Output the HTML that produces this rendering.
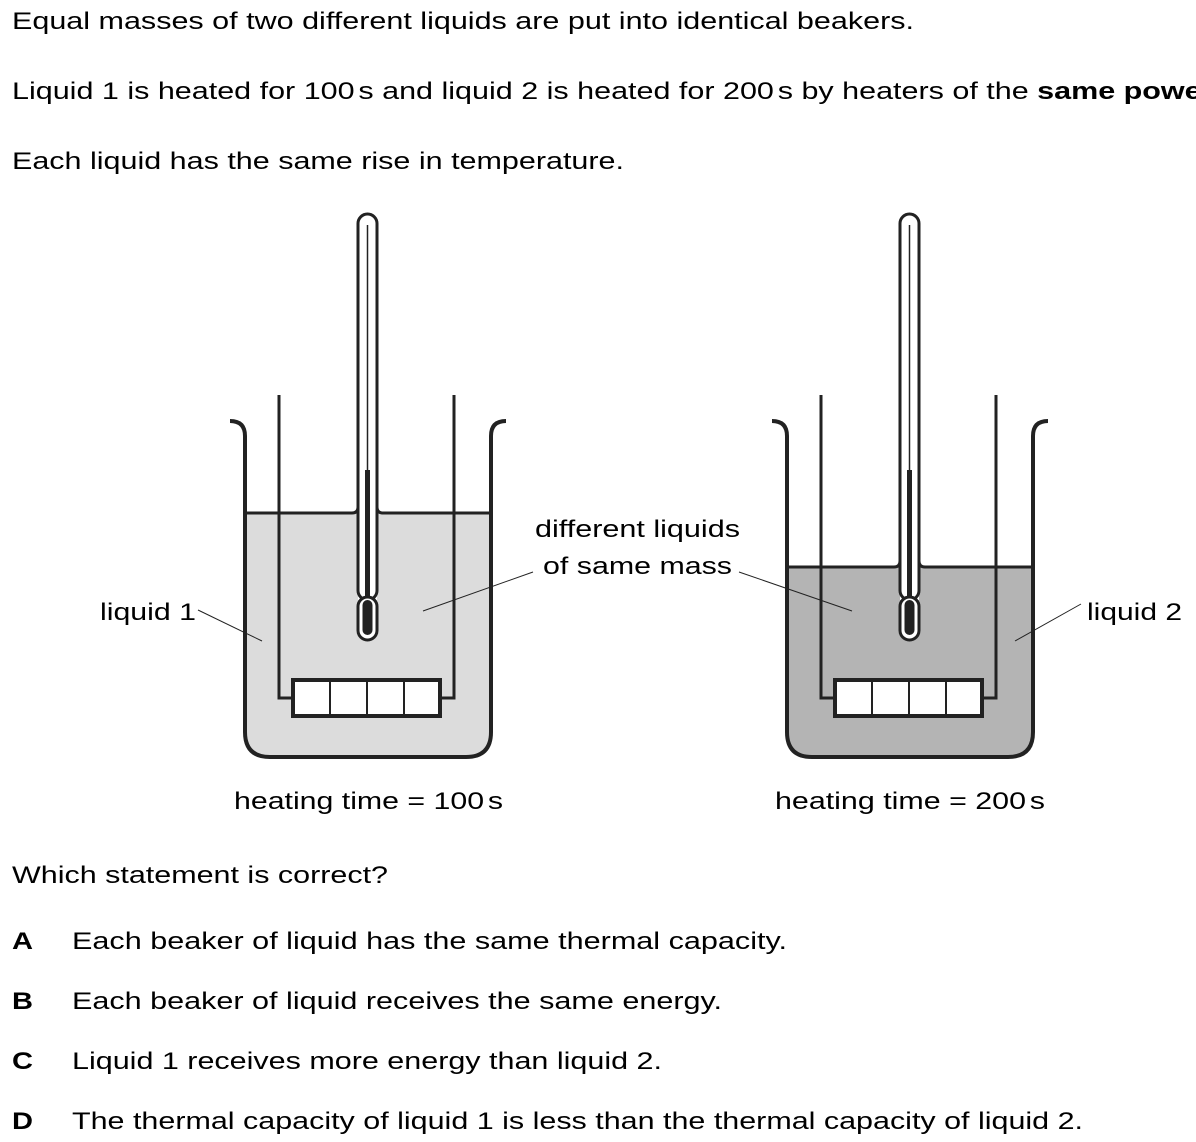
<!DOCTYPE html>
<html><head><meta charset="utf-8"><style>
body{margin:0;background:#fff;width:1196px;height:1142px;overflow:hidden}
svg{display:block}
text{font-family:"Liberation Sans",Arial,sans-serif;font-size:24px;fill:#000}
</style></head><body>
<svg width="1196" height="1142" viewBox="0 0 1196 1142">
<text x="12" y="29" textLength="902" lengthAdjust="spacingAndGlyphs">Equal masses of two different liquids are put into identical beakers.</text>
<text x="12" y="99" textLength="1210" lengthAdjust="spacingAndGlyphs">Liquid 1 is heated for 100<tspan dx="3">s and liquid 2 is heated for 200</tspan><tspan dx="3">s by heaters of the </tspan><tspan font-weight="bold">same power</tspan>.</text>
<text x="12" y="169" textLength="612" lengthAdjust="spacingAndGlyphs">Each liquid has the same rise in temperature.</text>

<defs>
<g id="beaker-frame">
  <path d="M230,421 Q245,421 245,436 L245,732 Q245,757 270,757 L466,757 Q491,757 491,732 L491,436 Q491,421 506,421" fill="none" stroke="#222" stroke-width="4"/>
</g>
<g id="inner">
  <path d="M279,395 L279,698 L292,698 M454,395 L454,698 L440,698" fill="none" stroke="#222" stroke-width="3"/>
  <rect x="293" y="680" width="147" height="36" fill="#fff" stroke="#222" stroke-width="4"/>
  <path d="M330,680V716M367,680V716M404,680V716" stroke="#222" stroke-width="2"/>
  <rect x="358" y="214" width="19" height="386" rx="9.5" fill="#fff" stroke="#222" stroke-width="3"/>
  <line x1="367.5" y1="225" x2="367.5" y2="470" stroke="#222" stroke-width="1.5"/>
  <rect x="365" y="470" width="5" height="128" fill="#222"/>
  <rect x="358" y="597" width="19" height="43" rx="9.5" fill="#fff" stroke="#222" stroke-width="3"/>
  <rect x="362.5" y="600" width="10" height="35" rx="5" fill="#222"/>
</g>
</defs>

<path d="M245,513 L358,513 L358,600 L377,600 L377,513 L491,513 L491,732 Q491,757 466,757 L270,757 Q245,757 245,732 Z" fill="#dcdcdc"/>
<path d="M247,513 L352,513 Q358,513 358,507 M377,507 Q377,513 383,513 L489,513" fill="none" stroke="#222" stroke-width="3"/>
<use href="#beaker-frame"/>
<use href="#inner"/>

<g transform="translate(542,0)">
<path d="M245,567 L358,567 L358,600 L377,600 L377,567 L491,567 L491,732 Q491,757 466,757 L270,757 Q245,757 245,732 Z" fill="#b4b4b4"/>
<path d="M247,567 L352,567 Q358,567 358,561 M377,561 Q377,567 383,567 L489,567" fill="none" stroke="#222" stroke-width="3"/>
<use href="#beaker-frame"/>
<use href="#inner"/>
</g>

<text x="100" y="620" textLength="96" lengthAdjust="spacingAndGlyphs">liquid 1</text>
<line x1="198" y1="610" x2="262" y2="641" stroke="#222" stroke-width="1"/>
<text x="535" y="537" textLength="205" lengthAdjust="spacingAndGlyphs">different liquids</text>
<text x="543" y="574" textLength="189" lengthAdjust="spacingAndGlyphs">of same mass</text>
<line x1="533" y1="572" x2="423" y2="611" stroke="#222" stroke-width="1"/>
<line x1="739" y1="572" x2="852" y2="611" stroke="#222" stroke-width="1"/>
<text x="1087" y="620" textLength="95" lengthAdjust="spacingAndGlyphs">liquid 2</text>
<line x1="1081" y1="604" x2="1015" y2="641" stroke="#222" stroke-width="1"/>
<text x="234" y="809" textLength="269" lengthAdjust="spacingAndGlyphs">heating time = 100<tspan dx="3">s</tspan></text>
<text x="775" y="809" textLength="270" lengthAdjust="spacingAndGlyphs">heating time = 200<tspan dx="3">s</tspan></text>

<text x="12" y="883" textLength="376" lengthAdjust="spacingAndGlyphs">Which statement is correct?</text>
<text x="12" y="949" font-weight="bold" textLength="21" lengthAdjust="spacingAndGlyphs">A</text><text x="72" y="949" textLength="715" lengthAdjust="spacingAndGlyphs">Each beaker of liquid has the same thermal capacity.</text>
<text x="12" y="1009" font-weight="bold" textLength="21" lengthAdjust="spacingAndGlyphs">B</text><text x="72" y="1009" textLength="650" lengthAdjust="spacingAndGlyphs">Each beaker of liquid receives the same energy.</text>
<text x="12" y="1069" font-weight="bold" textLength="21" lengthAdjust="spacingAndGlyphs">C</text><text x="72" y="1069" textLength="590" lengthAdjust="spacingAndGlyphs">Liquid 1 receives more energy than liquid 2.</text>
<text x="12" y="1129" font-weight="bold" textLength="21" lengthAdjust="spacingAndGlyphs">D</text><text x="72" y="1129" textLength="1011" lengthAdjust="spacingAndGlyphs">The thermal capacity of liquid 1 is less than the thermal capacity of liquid 2.</text>
</svg>
</body></html>
